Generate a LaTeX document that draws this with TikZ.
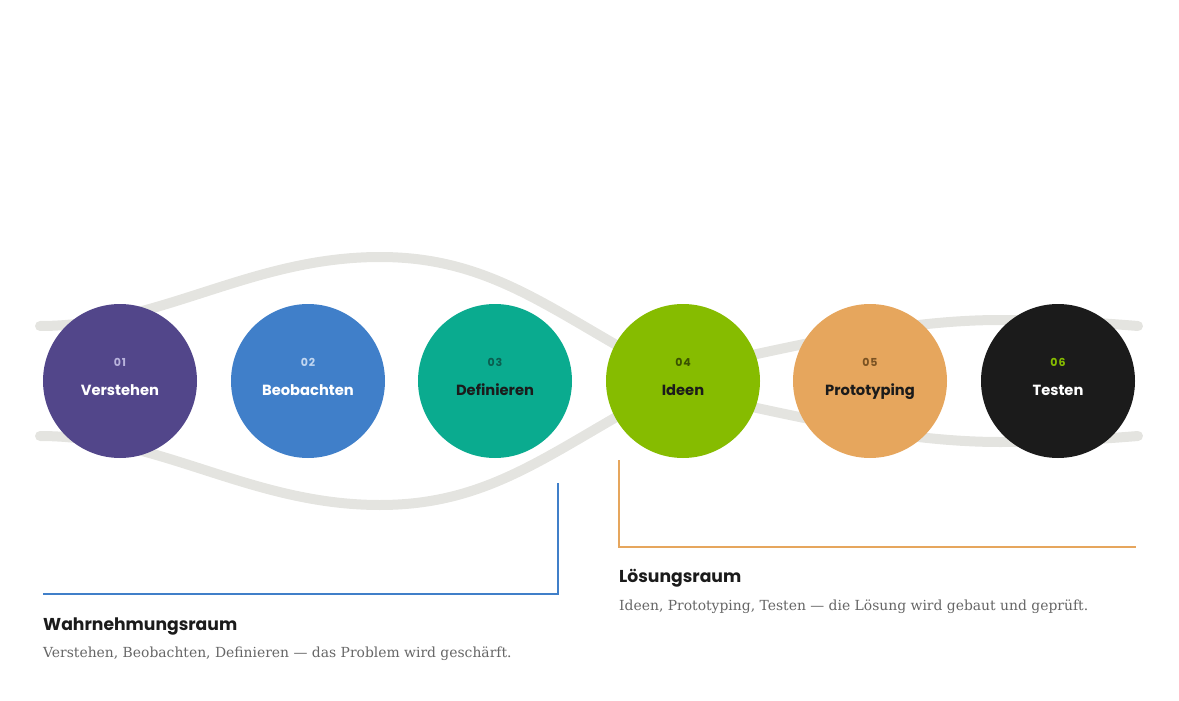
\documentclass[tikz,border=0pt]{standalone}
\usepackage{fontspec}
\setmainfont{DejaVu Serif}
\newfontfamily\popfont{Poppins}
\newfontfamily\popnumfont[LetterSpace=8]{Poppins}
\usetikzlibrary{backgrounds}
\definecolor{cPurple}{HTML}{52468A}
\definecolor{cBlue}{HTML}{407FC9}
\definecolor{cTeal}{HTML}{0AAB8F}
\definecolor{cGreen}{HTML}{86BC00}
\definecolor{cOrange}{HTML}{E6A65D}
\definecolor{cBlack}{HTML}{1B1B1B}
\definecolor{cTrack}{HTML}{E4E4E0}
\definecolor{cInk}{HTML}{1B1B1B}
\definecolor{cGrayText}{HTML}{666666}
\definecolor{nPurple}{HTML}{B9B3DC}
\definecolor{nBlue}{HTML}{C2D7F1}
\definecolor{nTeal}{HTML}{0B5E50}
\definecolor{nGreen}{HTML}{3A5200}
\definecolor{nOrange}{HTML}{7A5222}
\tikzset{
  stage/.style={circle, minimum size=154pt, inner sep=0pt, draw=none},
  numtxt/.style={anchor=base, inner sep=0pt, font=\popnumfont\bfseries\fontsize{11}{13}\selectfont},
  nametxt/.style={anchor=base, inner sep=0pt, font=\popfont\bfseries\fontsize{14.7}{18}\selectfont},
  track/.style={line width=10pt, line cap=round, cTrack},
  titletxt/.style={anchor=base west, inner sep=0pt, text=cInk, font=\popfont\bfseries\fontsize{17.2}{21}\selectfont},
  desctxt/.style={anchor=base west, inner sep=0pt, text=cGrayText, font=\fontsize{13.9}{16}\selectfont},
  bracket/.style={line width=2pt}
}
\begin{document}
\begin{tikzpicture}[x=1pt,y=-1pt]
\useasboundingbox (0,0) rectangle (1179,701);

% stages
\node[stage, fill=cPurple] (c1) at (120,381) {};
\node[stage, fill=cBlue]   (c2) at (308,381) {};
\node[stage, fill=cTeal]   (c3) at (495,381) {};
\node[stage, fill=cGreen]  (c4) at (683,381) {};
\node[stage, fill=cOrange] (c5) at (870,381) {};
\node[stage, fill=cBlack]  (c6) at (1058,381) {};

\node[numtxt, text=nPurple] (n1) at (120,366.7) {01};
\node[numtxt, text=nBlue]   (n2) at (308,366.7) {02};
\node[numtxt, text=nTeal]   (n3) at (495,366.7) {03};
\node[numtxt, text=nGreen]  (n4) at (683,366.7) {04};
\node[numtxt, text=nOrange] (n5) at (870,366.7) {05};
\node[numtxt, text=cGreen]  (n6) at (1058,366.7) {06};

\node[nametxt, text=white] (l1) at (120,395) {Verstehen};
\node[nametxt, text=white] (l2) at (308,395) {Beobachten};
\node[nametxt, text=cInk]  (l3) at (495,395) {Definieren};
\node[nametxt, text=cInk]  (l4) at (683,395) {Ideen};
\node[nametxt, text=cInk]  (l5) at (870,395) {Prototyping};
\node[nametxt, text=white] (l6) at (1058,395) {Testen};

% track ends
\coordinate (tl) at (40,326);
\coordinate (bl) at (40,436);
\coordinate (tr) at (1138,326);
\coordinate (br) at (1138,436);

\begin{pgfonlayer}{background}
\draw[track] (tl) .. controls (160,326) and (250,257) .. (380,257)
  .. controls (500,257) and (560,320) .. (c4.center);
\draw[track] (bl) .. controls (160,436) and (250,505) .. (380,505)
  .. controls (500,505) and (560,442) .. (c4.center);
\draw[track] ([yshift=11pt]c4.center) .. controls (800,345) and (900,320) .. (1000,320)
  .. controls (1060,320) and (1100,323) .. (tr);
\draw[track] ([yshift=-11pt]c4.center) .. controls (800,417) and (900,442) .. (1000,442)
  .. controls (1060,442) and (1100,439) .. (br);
\end{pgfonlayer}

% brackets
\coordinate (ba) at (558,483);
\coordinate (bc) at (558,594);
\coordinate (bd) at (43,594);
\draw[bracket, cBlue] (ba) -- (bc) -- (bd);
\coordinate (oa) at (619,460);
\coordinate (oc) at (619,546.5);
\coordinate (od) at (1136,546.5);
\draw[bracket, cOrange] (oa) -- (oc) -- (od);

% captions
\node[titletxt] (t1) at (43,630) {Wahrnehmungsraum};
\node[desctxt]  (d1) at (43,657.3) {Verstehen, Beobachten, Definieren — das Problem wird geschärft.};
\node[titletxt] (t2) at (619,582) {Lösungsraum};
\node[desctxt]  (d2) at (619,610) {Ideen, Prototyping, Testen — die Lösung wird gebaut und geprüft.};
\end{tikzpicture}
\end{document}
